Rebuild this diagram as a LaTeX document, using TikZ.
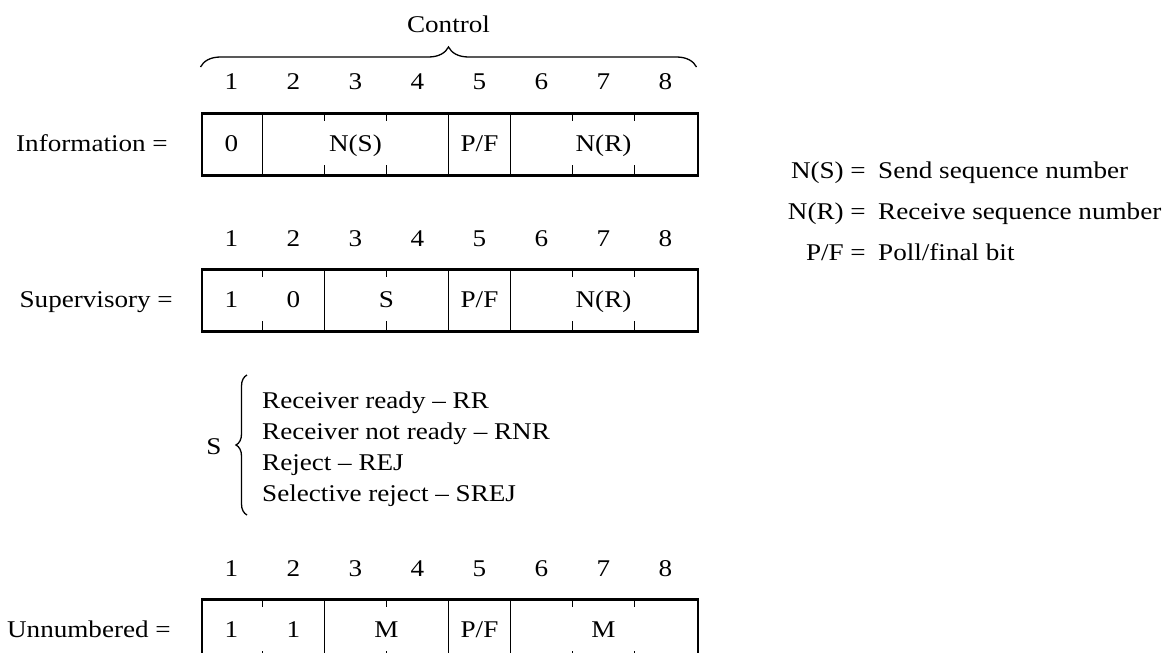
\documentclass[tikz,border=0pt]{standalone}
\usepackage{fontspec}
\setmainfont{Liberation Serif}[FakeStretch=1.13]
\usetikzlibrary{decorations.pathreplacing}
\begin{document}
\begin{tikzpicture}[x=1pt,y=-1pt,
  txt/.style={font=\fontsize{24}{28}\selectfont, inner sep=0pt,
              text height=16pt, text depth=0pt},
  frame/.style={draw, line width=2.6pt, minimum width=496pt, minimum height=62pt,
                anchor=north west, inner sep=0pt},
  divider/.style={line width=1.2pt},
  curly/.style={line width=1.3pt, decorate},
]
\useasboundingbox (0,0) rectangle (1170,653);

% bit numbers above each frame
\foreach \row/\y in {a/81, b/238, c/568}
  \foreach \b in {1,...,8}
    \node[txt] (\row\b) at ({231.5+62*(\b-1)}, \y) {\b};

% control field brace
\node[txt] (ctl) at (448.5, 24) {Control};
\draw[curly, decoration={brace, amplitude=20pt, aspect=0.5}] (200.5,67) -- (696.5,67);

% ---------- Information frame ----------
\node[frame] (info) at (200.5,112) {};
\node[txt, anchor=east] (infolbl) at (168,143) {Information =};
\foreach \x in {262.5, 448.5, 510.5}
  \draw[divider] (\x,112) -- (\x,174);
\foreach \x in {324.5, 386.5, 572.5, 634.5}
  {\draw[divider] (\x,112) -- (\x,121); \draw[divider] (\x,165) -- (\x,174);}
\node[txt] (i0) at (231.5,143) {0};
\node[txt] (ins) at (355.5,143) {N(S)};
\node[txt] (ipf) at (479.5,143) {P/F};
\node[txt] (inr) at (603.5,143) {N(R)};

% ---------- Supervisory frame ----------
\node[frame] (sup) at (200.5,268) {};
\node[txt, anchor=east] (suplbl) at (173,299) {Supervisory =};
\foreach \x in {324.5, 448.5, 510.5}
  \draw[divider] (\x,268) -- (\x,330);
\foreach \x in {262.5, 386.5, 572.5, 634.5}
  {\draw[divider] (\x,268) -- (\x,277); \draw[divider] (\x,321) -- (\x,330);}
\node[txt] (s1) at (231.5,299) {1};
\node[txt] (s0) at (293.5,299) {0};
\node[txt] (ss) at (386.5,299) {S};
\node[txt] (spf) at (479.5,299) {P/F};
\node[txt] (snr) at (603.5,299) {N(R)};

% supervisory function codes
\node[txt] (slbl) at (214,446) {S};
\draw[curly, decoration={brace, amplitude=11pt, aspect=0.5}] (247,515) -- (247,375);
\node[txt, anchor=west] (rr)   at (262,400) {Receiver ready -- RR};
\node[txt, anchor=west] (rnr)  at (262,431) {Receiver not ready -- RNR};
\node[txt, anchor=west] (rej)  at (262,462) {Reject -- REJ};
\node[txt, anchor=west] (srej) at (262,493) {Selective reject -- SREJ};

% ---------- Unnumbered frame ----------
\node[frame] (unn) at (200.5,598) {};
\node[txt, anchor=east] (unnlbl) at (171,629) {Unnumbered =};
\foreach \x in {324.5, 448.5, 510.5}
  \draw[divider] (\x,598) -- (\x,660);
\foreach \x in {262.5, 386.5, 572.5, 634.5}
  {\draw[divider] (\x,598) -- (\x,607); \draw[divider] (\x,651) -- (\x,660);}
\node[txt] (u1) at (231.5,629) {1};
\node[txt] (u2) at (293.5,629) {1};
\node[txt] (um1) at (386.5,629) {M};
\node[txt] (upf) at (479.5,629) {P/F};
\node[txt] (um2) at (603.5,629) {M};

% legend
\node[txt, anchor=east] (kns) at (866,170) {N(S) =};
\node[txt, anchor=east] (knr) at (866,211) {N(R) =};
\node[txt, anchor=east] (kpf) at (866,252) {P/F =};
\node[txt, anchor=west] (vns) at (878,170) {Send sequence number};
\node[txt, anchor=west] (vnr) at (878,211) {Receive sequence number};
\node[txt, anchor=west] (vpf) at (878,252) {Poll/final bit};
\end{tikzpicture}
\end{document}
